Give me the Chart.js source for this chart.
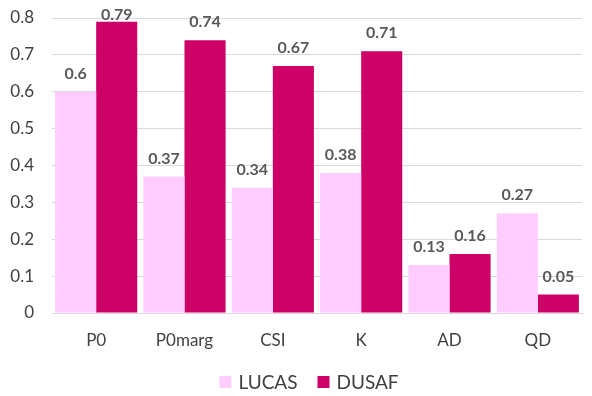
<!DOCTYPE html>
<html>
<head>
<meta charset="utf-8">
<script src="https://cdn.jsdelivr.net/npm/chart.js@4/dist/chart.umd.min.js"></script>
<style>
  html, body { margin: 0; padding: 0; background: #ffffff; }
</style>
</head>
<body>
<canvas id="c" width="592" height="396"></canvas>
<script>
// Accuracy indices per land-cover dataset
const categories = ['P0', 'P0marg', 'CSI', 'K', 'AD', 'QD'];
const lucasValues = [0.6, 0.37, 0.34, 0.38, 0.13, 0.27];
const dusafValues = [0.79, 0.74, 0.67, 0.71, 0.16, 0.05];
const yTicks = [0, 0.1, 0.2, 0.3, 0.4, 0.5, 0.6, 0.7, 0.8];

const FONT = 'Lato, "Open Sans", "DejaVu Sans", sans-serif';
const TEXT = '#404040';

// Value above each bar, kept inside the top of the plot
const valueLabels = {
  id: 'valueLabels',
  afterDatasetsDraw(chart) {
    const ctx = chart.ctx;
    ctx.save();
    ctx.font = 'bold 16px ' + FONT;
    ctx.fillStyle = '#595959';
    ctx.textAlign = 'center';
    ctx.textBaseline = 'alphabetic';
    chart.data.datasets.forEach((ds, i) => {
      chart.getDatasetMeta(i).data.forEach((bar, j) => {
        const y = Math.max(bar.y - 13, chart.chartArea.top + 2);
        ctx.fillText(String(ds.data[j]), bar.x, y);
      });
    });
    ctx.restore();
  }
};

// Legend row under the category labels
const bottomLegend = {
  id: 'bottomLegend',
  afterDraw(chart) {
    const ctx = chart.ctx;
    const box = 12, gap = 7, between = 20, cy = 382;
    ctx.save();
    ctx.font = '19px ' + FONT;
    ctx.textBaseline = 'middle';
    ctx.textAlign = 'left';
    const items = chart.data.datasets.map(ds => ({
      label: ds.label, color: ds.backgroundColor, w: ctx.measureText(ds.label).width
    }));
    const total = items.reduce((s, it) => s + box + gap + it.w, 0) + between * (items.length - 1);
    let x = (chart.chartArea.left + chart.chartArea.right) / 2 - 8 - total / 2;
    items.forEach(it => {
      ctx.fillStyle = it.color;
      ctx.fillRect(x, cy - box / 2, box, box);
      x += box + gap;
      ctx.fillStyle = TEXT;
      ctx.fillText(it.label, x, cy + 1);
      x += it.w + between;
    });
    ctx.restore();
  }
};

new Chart(document.getElementById('c'), {
  type: 'bar',
  data: {
    labels: categories,
    datasets: [
      { label: 'LUCAS', data: lucasValues, backgroundColor: '#FFCCFF', borderWidth: 0 },
      { label: 'DUSAF', data: dusafValues, backgroundColor: '#CC0066', borderWidth: 0 }
    ]
  },
  options: {
    responsive: false,
    animation: false,
    layout: { padding: { top: 18, right: 10, left: 0, bottom: 38 } },
    datasets: {
      bar: { categoryPercentage: 0.93, barPercentage: 1.0 }
    },
    scales: {
      x: {
        afterFit(scale) { scale.height = 45; },
        grid: { display: false, drawTicks: false },
        border: { display: true, color: '#d9d9d9', width: 1 },
        ticks: { color: TEXT, font: { family: FONT, size: 17 }, padding: 17 }
      },
      y: {
        min: 0,
        max: 0.8,
        afterBuildTicks(scale) {
          scale.ticks = yTicks.map(v => ({ value: v }));
        },
        afterFit(scale) {
          scale.width = 52;
          scale.paddingTop = 0;
          scale.paddingBottom = 0;
        },
        grid: { color: '#d9d9d9', drawTicks: false },
        border: { display: false },
        ticks: {
          color: TEXT,
          font: { family: FONT, size: 17 },
          padding: 18,
          callback: v => String(Math.round(v * 10) / 10)
        }
      }
    },
    plugins: {
      legend: { display: false },
      tooltip: { enabled: false }
    }
  },
  plugins: [valueLabels, bottomLegend]
});
</script>
</body>
</html>
